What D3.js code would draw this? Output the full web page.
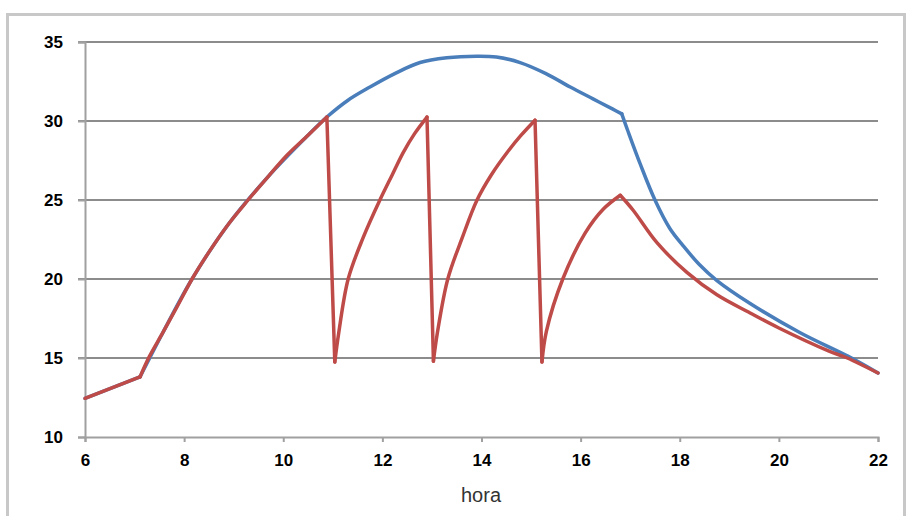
<!DOCTYPE html>
<html>
<head>
<meta charset="utf-8">
<title>hora</title>
<script src="https://d3js.org/d3.v7.min.js"></script>
<style>
  body { margin: 0; background: #fff; }
  .tick text { font-family: "Liberation Sans", Arial, sans-serif; font-weight: bold; font-size: 17px; fill: #000; }
</style>
</head>
<body>
<div id="chart"></div>
<script>
// data: hour, temperature
var redHours = [6, 7.11, 7.3, 7.57, 7.85, 8.16, 8.5, 8.9, 9.29, 9.7, 10.08, 10.5, 10.88,
  11.04, 11.12, 11.31, 11.61, 11.95, 12.2, 12.42, 12.65, 12.9,
  13.03, 13.11, 13.32, 13.61, 13.91, 14.2, 14.54, 14.8, 15.08,
  15.22, 15.31, 15.64, 16.09, 16.45, 16.8,
  17.06, 17.54, 18.15, 18.75, 19.42, 20, 21, 21.38, 22];
var redTemp = [12.45, 13.8, 15.1, 16.6, 18.2, 20.0, 21.7, 23.5, 25.0, 26.5, 27.85, 29.1, 30.25,
  14.75, 16.6, 20.0, 22.6, 25.0, 26.6, 28.0, 29.2, 30.25,
  14.8, 16.6, 20.0, 22.6, 25.0, 26.6, 28.1, 29.1, 30.05,
  14.75, 16.7, 20.0, 22.9, 24.4, 25.3,
  24.35, 22.3, 20.4, 19.0, 17.85, 16.9, 15.45, 15.0, 14.05];
// hours where the red line has a corner
var redBreaks = [7.11, 10.88, 11.04, 12.9, 13.03, 15.08, 15.22, 16.8];

var blueHours = [6, 7.11, 7.57, 8.16, 8.9, 9.7, 10.5, 10.88, 11.3, 11.75, 12.25, 12.76, 13.3, 13.9,
  14.3, 14.78, 15.3, 15.79, 16.25, 16.65, 16.83, 16.95, 17.2, 17.5, 17.8, 18.07, 18.4, 18.75, 19.42, 20.43, 21.4, 22];
var blueTemp = [12.45, 13.8, 16.6, 20.0, 23.5, 26.5, 29.1, 30.25, 31.3, 32.15, 33.0, 33.7, 34.0, 34.1,
  34.05, 33.7, 33.0, 32.15, 31.4, 30.75, 30.45, 29.4, 27.3, 25.0, 23.2, 22.1, 20.9, 19.9, 18.45, 16.6, 15.1, 14.05];
var blueBreaks = [7.11, 16.83];

var xTicks = [6, 8, 10, 12, 14, 16, 18, 20, 22];
var yTicks = [10, 15, 20, 25, 30, 35];
var xTitle = "hora";

var W = 908, H = 516;
var svg = d3.select("#chart").append("svg").attr("width", W).attr("height", H);

// outer frame
svg.append("rect").attr("x", 7.5).attr("y", 14.5).attr("width", 897).attr("height", 512)
  .attr("fill", "none").attr("stroke", "#c8c8c8").attr("stroke-width", 3);

var x = d3.scaleLinear().domain([6, 22]).range([85, 878]);
var y = d3.scaleLinear().domain([10, 35]).range([437, 42]);

// horizontal grid
svg.append("g").selectAll("line").data(yTicks.filter(function (d) { return d > 10; }))
  .enter().append("line")
  .attr("x1", 78).attr("x2", 878)
  .attr("y1", function (d) { return y(d); }).attr("y2", function (d) { return y(d); })
  .attr("stroke", "#8c8c8c").attr("stroke-width", 2);

// axes
var yAxis = svg.append("g").attr("transform", "translate(85,0)")
  .call(d3.axisLeft(y).tickValues(yTicks).tickSize(7).tickPadding(15));
var xAxis = svg.append("g").attr("transform", "translate(0,437)")
  .call(d3.axisBottom(x).tickValues(xTicks).tickSize(5).tickPadding(12));
[yAxis, xAxis].forEach(function (g) {
  g.select(".domain").attr("stroke", "#a0a0a0").attr("stroke-width", 2);
  g.selectAll(".tick line").attr("stroke", "#a0a0a0").attr("stroke-width", 2);
});

svg.append("text").attr("x", 481).attr("y", 502).attr("text-anchor", "middle")
  .attr("font-family", "'Liberation Sans', Arial, sans-serif").attr("font-size", 20)
  .attr("fill", "#333").text(xTitle);

var line = d3.line()
  .x(function (d) { return x(d[0]); })
  .y(function (d) { return y(d[1]); })
  .curve(d3.curveCatmullRom.alpha(0.5));

// split a series into smooth pieces at its corners
function pieces(hours, temps, breaks) {
  var pts = d3.zip(hours, temps), out = [], cur = [];
  pts.forEach(function (p) {
    cur.push(p);
    if (breaks.indexOf(p[0]) >= 0) { out.push(cur); cur = [p]; }
  });
  if (cur.length > 1) out.push(cur);
  return out;
}

function drawSeries(parts, color) {
  svg.append("g").selectAll("path").data(parts).enter().append("path")
    .attr("d", line).attr("fill", "none")
    .attr("stroke", color).attr("stroke-width", 3.5)
    .attr("stroke-linejoin", "round").attr("stroke-linecap", "round");
}

drawSeries(pieces(blueHours, blueTemp, blueBreaks), "#4a7ebb");
drawSeries(pieces(redHours, redTemp, redBreaks), "#be4b48");
</script>
</body>
</html>
